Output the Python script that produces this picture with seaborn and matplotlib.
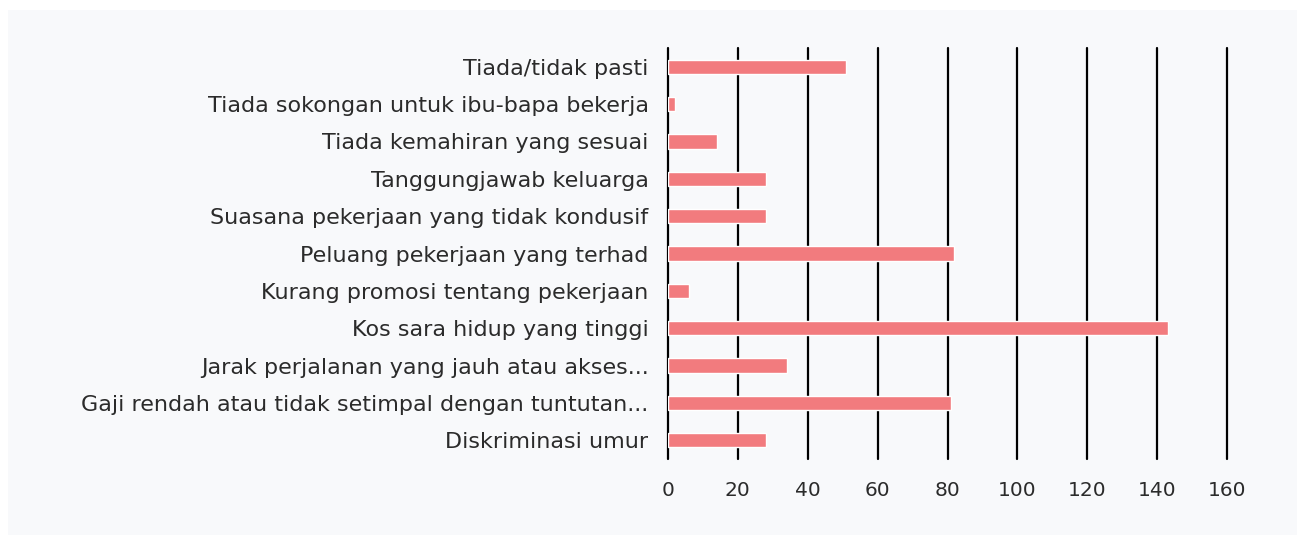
import matplotlib
matplotlib.use("Agg")
import matplotlib.pyplot as plt
import seaborn as sns
import pandas as pd
from matplotlib.patches import Rectangle

categories = [
    "Tiada/tidak pasti",
    "Tiada sokongan untuk ibu-bapa bekerja",
    "Tiada kemahiran yang sesuai",
    "Tanggungjawab keluarga",
    "Suasana pekerjaan yang tidak kondusif",
    "Peluang pekerjaan yang terhad",
    "Kurang promosi tentang pekerjaan",
    "Kos sara hidup yang tinggi",
    "Jarak perjalanan yang jauh atau akses...",
    "Gaji rendah atau tidak setimpal dengan tuntutan...",
    "Diskriminasi umur",
]
values = [51, 2, 14, 28, 28, 82, 6, 143, 34, 81, 28]
xticks = [0, 20, 40, 60, 80, 100, 120, 140, 160]

df = pd.DataFrame({"category": categories, "value": values})

sns.set_theme(style="white")
plt.rcParams["font.family"] = ["DejaVu Sans"]

fig = plt.figure(figsize=(13.05, 5.43), dpi=100)
fig.patch.set_facecolor("white")
fig.patches.append(Rectangle((8 / 1305, 8 / 543), 1289 / 1305, 525 / 543,
                             transform=fig.transFigure, facecolor="#f8f9fb",
                             edgecolor="none", zorder=-10))

ax = fig.add_axes([668 / 1305, 1 - 459 / 543, (1227 - 668) / 1305, (459 - 48) / 543])
ax.set_facecolor("none")
ax.set_zorder(5)

sns.barplot(data=df, x="value", y="category", orient="h", color="#f27b7e",
            saturation=1, width=0.38, ax=ax, zorder=3)

ax.set_xlim(0, 160)
ax.set_ylim(10.5, -0.5)
ax.set_xticks(xticks)
ax.set_xticklabels([str(t) for t in xticks])
for t in xticks:
    ax.axvline(t, color="black", lw=1.6, zorder=2, clip_on=False)
for s in ax.spines.values():
    s.set_visible(False)
ax.set_xlabel("")
ax.set_ylabel("")
ax.tick_params(axis="both", length=0, colors="#2b2b2b")
ax.tick_params(axis="x", pad=16, labelsize=14.5)
ax.tick_params(axis="y", pad=14, labelsize=16)

fig.savefig("out.png", dpi=100)
